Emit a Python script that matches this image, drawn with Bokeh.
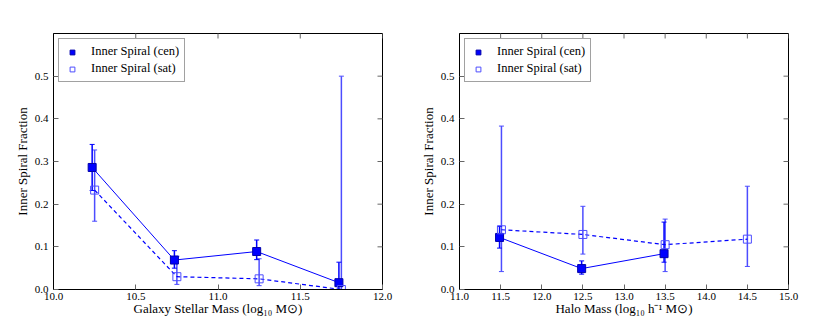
import math
from bokeh.plotting import figure
from bokeh.models import (ColumnDataSource, Range1d, FixedTicker, PrintfTickFormatter,
                          Whisker, TeeHead, Legend, LegendItem)
from bokeh.layouts import row
from bokeh.embed import file_html
from bokeh.resources import INLINE

# ---------------- data ----------------
# Left panel: galaxy stellar mass bins
sm_cen_x = [10.235, 10.735, 11.235, 11.735]
sm_cen_frac = [0.286, 0.069, 0.089, 0.016]
sm_cen_lo = [0.232, 0.050, 0.070, 0.000]
sm_cen_hi = [0.340, 0.091, 0.116, 0.064]

sm_sat_x = [10.25, 10.75, 11.25, 11.75]
sm_sat_frac = [0.233, 0.030, 0.025, 0.000]
sm_sat_lo = [0.160, 0.012, 0.009, 0.000]
sm_sat_hi = [0.327, 0.078, 0.072, 0.500]

# Right panel: halo mass bins
hm_cen_x = [11.487, 12.485, 13.487]
hm_cen_frac = [0.122, 0.049, 0.084]
hm_cen_lo = [0.097, 0.036, 0.064]
hm_cen_hi = [0.148, 0.067, 0.158]

hm_sat_x = [11.51, 12.5, 13.5, 14.5]
hm_sat_frac = [0.140, 0.129, 0.105, 0.118]
hm_sat_lo = [0.042, 0.083, 0.042, 0.054]
hm_sat_hi = [0.383, 0.195, 0.165, 0.242]

sm_ticks = [10.0, 10.5, 11.0, 11.5, 12.0]
hm_ticks = [11.0, 11.5, 12.0, 12.5, 13.0, 13.5, 14.0, 14.5, 15.0]
y_ticks = [0.0, 0.1, 0.2, 0.3, 0.4, 0.5]

x_label_left = "Galaxy Stellar Mass (log\u2081\u2080 M\u2299)"
x_label_right = "Halo Mass (log\u2081\u2080 h\u207b\u00b9 M\u2299)"
y_label = "Inner Spiral Fraction"
cen_label = "Inner Spiral (cen)"
sat_label = "Inner Spiral (sat)"

FONT = "'Liberation Serif', 'Times New Roman', serif"
BLUE = "#0000ff"
SAT_BLUE = "#4d4dff"
TICK = "#666666"


def make_panel(xr, xticks, cx, cf, clo, chi, sx, sf, slo, shi, xlabel, width, bl, br):
    p = figure(width=width, height=318, x_range=Range1d(*xr), y_range=Range1d(0, 0.6),
               output_backend="svg", toolbar_location=None,
               min_border_left=bl, min_border_right=br, min_border_top=33, min_border_bottom=0)
    p.xgrid.visible = False
    p.ygrid.visible = False
    p.outline_line_color = "black"
    p.outline_line_width = 1
    p.background_fill_color = "white"
    p.border_fill_color = "white"

    for ax in p.xaxis:
        ax.ticker = FixedTicker(ticks=xticks)
        ax.axis_label = xlabel
        ax.major_label_standoff = 3
        ax.axis_label_standoff = -2
    for ax in p.yaxis:
        ax.ticker = FixedTicker(ticks=y_ticks)
        ax.axis_label = y_label
        ax.major_label_standoff = 5
        ax.axis_label_standoff = 2
    for ax in p.xaxis + p.yaxis:
        ax.formatter = PrintfTickFormatter(format="%.1f")
        ax.major_tick_in = 5
        ax.major_tick_out = 0
        ax.minor_tick_line_color = None
        ax.major_tick_line_color = TICK
        ax.axis_line_color = "black"
        ax.major_label_text_font = FONT
        ax.major_label_text_font_size = "11px"
        ax.major_label_text_color = "black"
        ax.axis_label_text_font = FONT
        ax.axis_label_text_font_size = "13px"
        ax.axis_label_text_font_style = "normal"
        ax.axis_label_text_color = "black"

    # tick marks on the top and right edges (half of each dash is clipped by the frame)
    p.scatter(x=xticks, y=[0.6] * len(xticks), marker="dash", angle=math.pi / 2,
              size=10, line_color=TICK, line_width=1)
    p.scatter(x=[xr[1]] * len(y_ticks), y=y_ticks, marker="dash", angle=0,
              size=10, line_color=TICK, line_width=1)

    csrc = ColumnDataSource(dict(x=cx, y=cf, lo=clo, hi=chi))
    ssrc = ColumnDataSource(dict(x=sx, y=sf, lo=slo, hi=shi))

    p.line("x", "y", source=csrc, line_color=BLUE, line_width=1)
    p.line("x", "y", source=ssrc, line_color=BLUE, line_width=1.2, line_dash="4 3")

    for src, col in ((ssrc, SAT_BLUE), (csrc, BLUE)):
        w = Whisker(base="x", lower="lo", upper="hi", source=src, dimension="height",
                    line_color=col, line_width=1.5,
                    upper_head=TeeHead(size=5, line_color=col, line_width=1),
                    lower_head=TeeHead(size=5, line_color=col, line_width=1))
        p.add_layout(w)

    rc = p.scatter("x", "y", source=csrc, marker="square", size=8,
                   fill_color=BLUE, line_color="#0000aa", line_width=1)
    rs = p.scatter("x", "y", source=ssrc, marker="square", size=8,
                   fill_color=None, line_color=SAT_BLUE, line_width=1)

    legend = Legend(items=[LegendItem(label=cen_label, renderers=[rc]),
                           LegendItem(label=sat_label, renderers=[rs])],
                    location="top_left", margin=5, padding=5, spacing=2,
                    glyph_width=16, glyph_height=12, label_height=12,
                    label_standoff=11, label_text_font=FONT, label_text_font_size="12.5px",
                    label_text_color="black",
                    border_line_color="#444444", border_line_width=1.5,
                    background_fill_color="white", background_fill_alpha=1)
    p.add_layout(legend)
    return p


p1 = make_panel((10.0, 12.0), sm_ticks, sm_cen_x, sm_cen_frac, sm_cen_lo, sm_cen_hi,
                sm_sat_x, sm_sat_frac, sm_sat_lo, sm_sat_hi, x_label_left, 410, 53, 28)
p2 = make_panel((11.0, 15.0), hm_ticks, hm_cen_x, hm_cen_frac, hm_cen_lo, hm_cen_hi,
                hm_sat_x, hm_sat_frac, hm_sat_lo, hm_sat_hi, x_label_right, 398, 49, 20)

layout = row(p1, p2)
open("out.html", "w").write(file_html(layout, INLINE))
